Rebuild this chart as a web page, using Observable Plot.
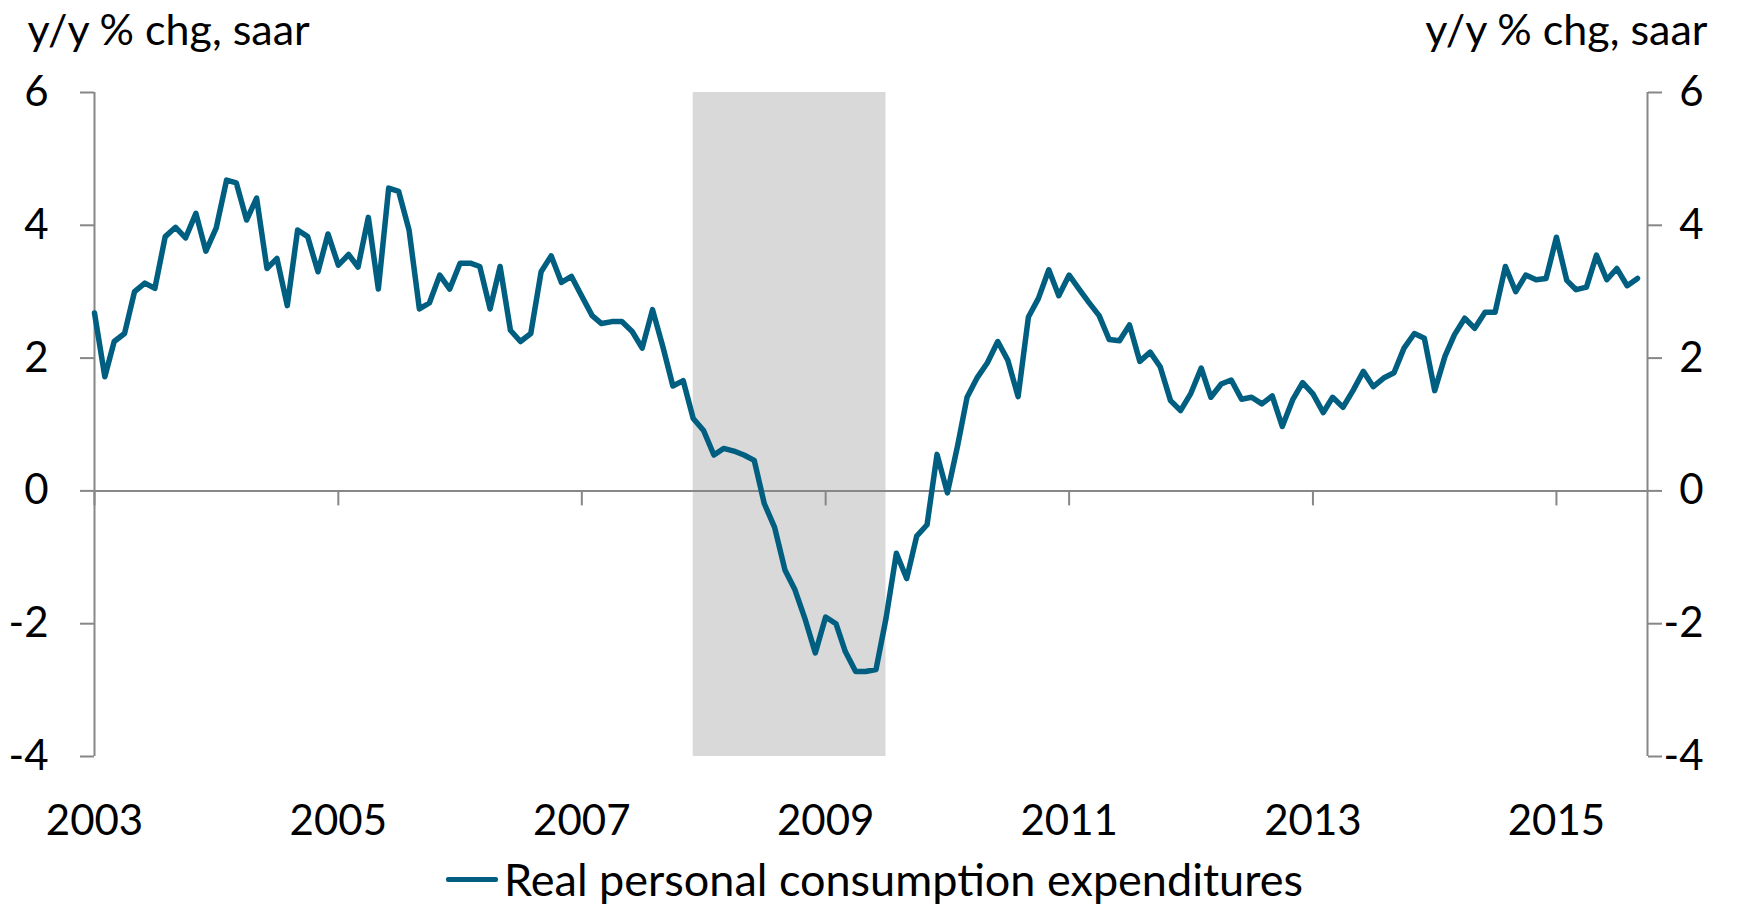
<!DOCTYPE html>
<html>
<head>
<meta charset="utf-8">
<script src="https://cdn.jsdelivr.net/npm/d3@7"></script>
<script src="https://cdn.jsdelivr.net/npm/@observablehq/plot@0.6"></script>
<style>
  html, body { margin: 0; padding: 0; background: #fff; }
  body { font-family: Lato, "Open Sans", sans-serif; width: 1743px; height: 909px; overflow: hidden; }
  #legend { display: flex; justify-content: center; align-items: center; height: 59px; padding-left: 6px; }
  #legend .sw { width: 52px; height: 5.5px; border-radius: 2px; background: #005f80; margin-right: 6px; }
  #legend .lb { font-size: 45px; color: #000; line-height: 1; }
</style>
</head>
<body>
<div id="chart"></div>
<div id="legend"><div class="sw"></div><div class="lb">Real personal consumption expenditures</div></div>
<script>
// ---- data ----
const startMonth = "2003-01-01";
const seriesName = "Real personal consumption expenditures";
const axisTitle = "y/y % chg, saar";
const pceYoY = [
  // 2003
  2.68, 1.72, 2.25, 2.37, 3.00, 3.13, 3.05, 3.83, 3.97, 3.81, 4.18, 3.61,
  // 2004
  3.96, 4.68, 4.64, 4.08, 4.41, 3.35, 3.50, 2.79, 3.93, 3.83, 3.30, 3.87,
  // 2005
  3.40, 3.56, 3.37, 4.12, 3.04, 4.56, 4.51, 3.93, 2.74, 2.83, 3.25, 3.04,
  // 2006
  3.43, 3.43, 3.38, 2.74, 3.38, 2.42, 2.25, 2.37, 3.30, 3.54, 3.14, 3.23,
  // 2007
  2.93, 2.64, 2.52, 2.55, 2.55, 2.40, 2.15, 2.73, 2.17, 1.58, 1.66, 1.09,
  // 2008
  0.91, 0.54, 0.64, 0.60, 0.54, 0.46, -0.19, -0.55, -1.19, -1.49, -1.94, -2.44,
  // 2009
  -1.90, -2.00, -2.42, -2.72, -2.72, -2.69, -1.92, -0.94, -1.32, -0.68, -0.51, 0.55,
  // 2010
  -0.03, 0.69, 1.41, 1.71, 1.93, 2.25, 1.97, 1.42, 2.62, 2.90, 3.33, 2.94,
  // 2011
  3.25, 3.03, 2.84, 2.64, 2.28, 2.26, 2.50, 1.95, 2.09, 1.87, 1.36, 1.21,
  // 2012
  1.47, 1.85, 1.41, 1.61, 1.67, 1.38, 1.41, 1.31, 1.43, 0.97, 1.37, 1.63,
  // 2013
  1.46, 1.18, 1.41, 1.26, 1.51, 1.80, 1.57, 1.70, 1.78, 2.15, 2.37, 2.30,
  // 2014
  1.51, 2.03, 2.35, 2.60, 2.45, 2.69, 2.69, 3.38, 3.00, 3.25, 3.18, 3.20,
  // 2015
  3.82, 3.17, 3.03, 3.07, 3.55, 3.18, 3.35, 3.09, 3.20
];
const yearTicks = ["2003", "2005", "2007", "2009", "2011", "2013", "2015"];
const yTicks = [-4, -2, 0, 2, 4, 6];
const yDomain = [-4, 6];
const xDomain = ["2003-01-01", "2015-10-01"];
const recession = [{start: "2007-12-01", end: "2009-07-01"}];

// ---- build ----
const parse = d3.utcParse("%Y-%m-%d");
const t0 = parse(startMonth);
const data = pceYoY.map((v, i) => ({date: d3.utcMonth.offset(t0, i), value: v}));
const tickDates = yearTicks.map(y => parse(y + "-01-01"));
const xDom = xDomain.map(parse);
const axisGray = "#878787";
const lineColor = "#005f80";

const plot = Plot.plot({
  width: 1743,
  height: 850,
  marginLeft: 94,
  marginRight: 96,
  marginTop: 92,
  marginBottom: 94,
  style: {fontFamily: "Lato, 'Open Sans', sans-serif", fontSize: "42px", color: "#000", background: "#fff", overflow: "visible"},
  x: {type: "utc", domain: xDom},
  y: {domain: yDomain},
  marks: [
    Plot.rect(recession, {x1: d => parse(d.start), x2: d => parse(d.end), fill: "#d9d9d9"}),
    Plot.ruleY([0], {stroke: axisGray, strokeWidth: 2}),
    Plot.ruleX(tickDates, {y1: 0, y2: 0, insetBottom: -15, stroke: axisGray, strokeWidth: 2}),
    Plot.ruleX(xDom, {stroke: axisGray, strokeWidth: 2}),
    Plot.axisY(yTicks, {anchor: "left", tickSize: 14, tickPadding: 32, stroke: axisGray, strokeWidth: 2, fill: "#000", tickFormat: d => String(d), label: null, fontSize: 42}),
    Plot.axisY(yTicks, {anchor: "right", tickSize: 14, tickPadding: 42, textAnchor: "end", stroke: axisGray, strokeWidth: 2, fill: "#000", tickFormat: d => String(d), label: null, fontSize: 42}),
    Plot.axisX(tickDates, {anchor: "bottom", tickSize: 0, tickPadding: 49, tickFormat: d3.utcFormat("%Y"), fill: "#000", label: null, fontSize: 42}),
    Plot.line(data, {x: "date", y: "value", stroke: lineColor, strokeWidth: 5.5}),
    Plot.text([axisTitle], {frameAnchor: "top-left", dx: -67, dy: -48, textAnchor: "start", lineAnchor: "bottom", fontSize: 43, fill: "#000"}),
    Plot.text([axisTitle], {frameAnchor: "top-right", dx: 60, dy: -48, textAnchor: "end", lineAnchor: "bottom", fontSize: 43, fill: "#000"})
  ]
});
document.getElementById("chart").appendChild(plot);
document.querySelector("#legend .lb").textContent = seriesName;
</script>
</body>
</html>
